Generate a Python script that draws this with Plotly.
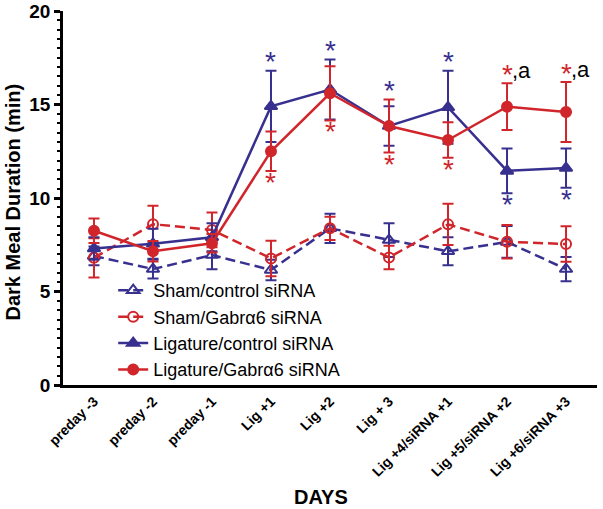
import plotly.graph_objects as go

# ---------------- data ----------------
days = ["preday -3", "preday -2", "preday -1", "Lig +1", "Lig +2", "Lig + 3",
        "Lig +4/siRNA +1", "Lig +5/siRNA +2", "Lig +6/siRNA +3"]

sham_ctrl_mean = [6.9, 6.2, 6.95, 6.15, 8.38, 7.75, 7.15, 7.65, 6.2]
sham_ctrl_sem = [0.5, 0.5, 0.76, 0.55, 0.78, 0.9, 0.75, 0.85, 0.65]

sham_gab_mean = [6.8, 8.6, 8.29, 6.77, 8.38, 6.82, 8.59, 7.66, 7.54]
sham_gab_sem = [1.05, 0.98, 0.93, 0.95, 0.62, 0.63, 1.1, 0.9, 0.95]

lig_ctrl_mean = [7.3, 7.55, 7.9, 14.9, 15.8, 13.85, 14.85, 11.45, 11.6]
lig_ctrl_sem = [0.6, 0.8, 0.75, 1.9, 1.6, 1.05, 1.95, 1.2, 1.05]

lig_gab_mean = [8.25, 7.15, 7.58, 12.5, 15.6, 13.85, 13.1, 14.88, 14.6]
lig_gab_sem = [0.65, 0.55, 0.5, 1.05, 1.45, 1.42, 0.95, 1.25, 1.6]

# significance marks: (day index, "above"/"below")
lig_ctrl_sig = [(3, "above"), (4, "above"), (5, "above"), (6, "above"), (7, "below"), (8, "below")]
lig_gab_sig = [(3, "below"), (4, "below"), (5, "below"), (6, "below"), (7, "above"), (8, "above")]
lig_gab_extra = [7, 8]  # ",a" marks

BLUE = "#38308f"
RED = "#d0262b"
FONT = "Arial, Liberation Sans, sans-serif"

x = list(range(len(days)))

fig = go.Figure()


def add(name, mean, sem, color, symbol, dash):
    fig.add_trace(go.Scatter(
        x=x, y=mean, name=name, mode="lines+markers",
        line=dict(color=color, width=2.5, dash=dash),
        marker=dict(symbol=symbol, size=10 if "circle" in symbol else 11, color=color,
                    line=dict(color=color, width=2)),
        error_y=dict(type="data", array=sem, visible=True, color=color,
                     thickness=2, width=5.5),
    ))


add("Sham/control siRNA", sham_ctrl_mean, sham_ctrl_sem, BLUE, "triangle-up-open", "10px,5px")
add("Sham/Gabrα6 siRNA", sham_gab_mean, sham_gab_sem, RED, "circle-open", "10px,5px")
add("Ligature/control siRNA", lig_ctrl_mean, lig_ctrl_sem, BLUE, "triangle-up", "solid")
add("Ligature/Gabrα6 siRNA", lig_gab_mean, lig_gab_sem, RED, "circle", "solid")

tops = [max(a + b, c + d) for a, b, c, d in zip(lig_ctrl_mean, lig_ctrl_sem, lig_gab_mean, lig_gab_sem)]
bots = [min(a - b, c - d) for a, b, c, d in zip(lig_ctrl_mean, lig_ctrl_sem, lig_gab_mean, lig_gab_sem)]

AST_SIZE = 28
AST_CORR = -3.5  # glyph sits above text middle


def star(i, where, color):
    if where == "above":
        yv, shift = tops[i], 12.5
    else:
        yv, shift = bots[i], -8
    fig.add_annotation(x=i, y=yv, text="*", showarrow=False, xanchor="center", yanchor="middle",
                       yshift=shift + AST_CORR, font=dict(family=FONT, size=AST_SIZE, color=color))


for i, w in lig_ctrl_sig:
    star(i, w, BLUE)
for i, w in lig_gab_sig:
    star(i, w, RED)
for i in lig_gab_extra:
    fig.add_annotation(x=i, y=tops[i], text=",a", showarrow=False, xanchor="left", yanchor="middle",
                       xshift=3, yshift=12.5, font=dict(family=FONT, size=22, color="black"))

# axis titles as annotations
fig.add_annotation(xref="paper", yref="paper", x=(12.5 - 63) / 534, y=(385 - 202) / 374,
                   xanchor="center", yanchor="middle",
                   text="Dark Meal Duration (min)", textangle=-90, showarrow=False,
                   font=dict(family=FONT, size=20, color="black", weight="bold"))
fig.add_annotation(xref="paper", yref="paper", x=(321 - 63) / 534, y=(385 - 497) / 374,
                   text="DAYS", showarrow=False, xanchor="center", yanchor="middle",
                   font=dict(family=FONT, size=20, color="black", weight="bold"))

fig.update_layout(
    width=603, height=509,
    margin=dict(l=63, r=6, t=11, b=124, autoexpand=False),
    paper_bgcolor="white", plot_bgcolor="white",
    font=dict(family=FONT, color="black"),
    showlegend=True,
    legend=dict(x=0.094, y=0.302, xanchor="left", yanchor="top", bgcolor="rgba(0,0,0,0)",
                font=dict(family=FONT, size=18, color="black"), tracegroupgap=0,
                itemwidth=30),
    xaxis=dict(range=[-0.525, 8.525], tickmode="array", tickvals=x, ticktext=days,
               tickangle=-45, showline=True, linecolor="black", linewidth=2.5,
               showgrid=False, zeroline=False, ticks="", automargin=False,
               tickfont=dict(family=FONT, size=14, color="black", weight="bold")),
    yaxis=dict(range=[0, 20], tickvals=[0, 5, 10, 15, 20], showline=True, linecolor="black",
               linewidth=2.5, showgrid=False, zeroline=False, ticks="outside", ticklen=6,
               tickwidth=2.5, tickcolor="black", automargin=False,
               minor=dict(dtick=0.5, ticks="outside", ticklen=3, tickwidth=1.5, tickcolor="black",
                          showgrid=False),
               tickfont=dict(family=FONT, size=19, color="black", weight="bold")),
)

fig.write_html("out.html", config={"displayModeBar": False},
               post_script="document.body.style.margin='0';document.body.style.overflow='hidden';")
